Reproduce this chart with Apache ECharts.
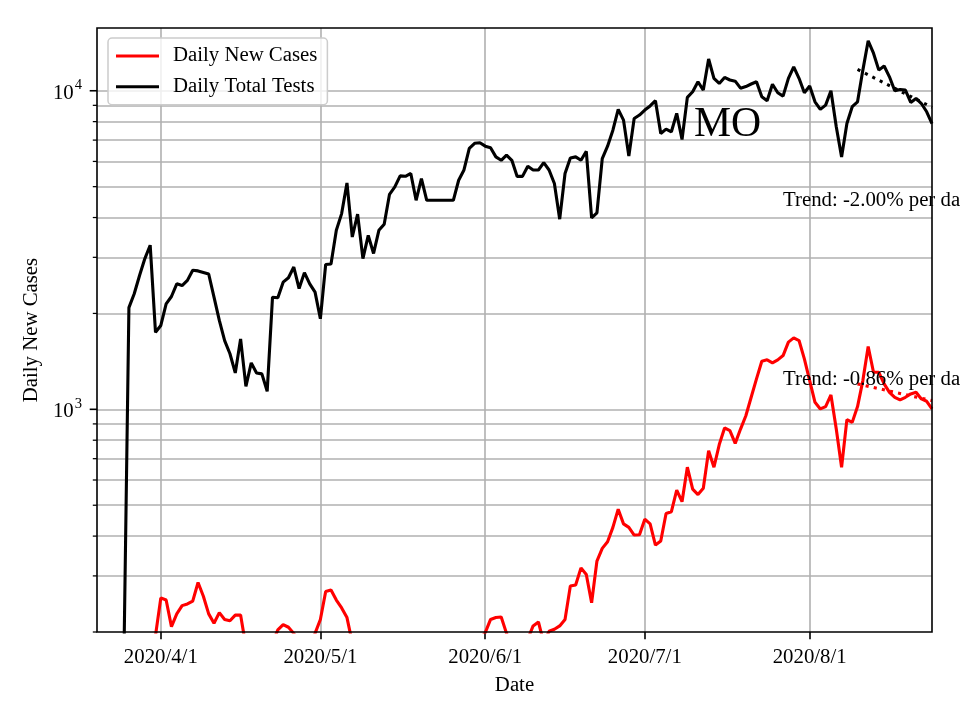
<!DOCTYPE html>
<html>
<head>
<meta charset="utf-8">
<script src="https://cdn.jsdelivr.net/npm/echarts@6/dist/echarts.min.js"></script>
<style>
html,body{margin:0;padding:0;background:#fff;}
#chart{width:960px;height:720px;}
</style>
</head>
<body>
<div id="chart"></div>
<script>
// ---- data ----
const startDate = Date.UTC(2020, 2, 20);
const endDate = Date.UTC(2020, 7, 24);
const dates = [];
for (let t = startDate; t <= endDate; t += 86400000) {
  const dt = new Date(t);
  dates.push(dt.getUTCFullYear() + '/' + (dt.getUTCMonth() + 1) + '/' + dt.getUTCDate());
}
const xTickLabels = ['2020/4/1', '2020/5/1', '2020/6/1', '2020/7/1', '2020/8/1'];

const dailyTotalTests = [null,null,null,null,null,140,
2085,2306,2630,2973,3275,1745,1833,2143,2260,2477,
2447,2540,2731,2720,2690,2660,2250,1901,1643,1494,
1301,1664,1181,1399,1301,1292,1139,2249,2240,2507,
2588,2797,2393,2686,2477,2333,1924,2850,2860,3647,
4115,5136,3475,4100,2973,3516,3085,3647,3810,4731,
4990,5404,5390,5500,4530,5300,4530,4530,4530,4530,
4530,4530,5237,5640,6595,6840,6870,6700,6620,6200,
6050,6280,6050,5385,5385,5795,5640,5640,5945,5640,
5115,3953,5500,6155,6200,6050,6455,3990,4135,6125,
6700,7520,8740,8085,6235,8185,8390,8700,8960,9310,
7340,7580,7435,8495,7030,9535,9930,10670,10050,12580,
10940,10540,11010,10810,10720,10190,10310,10500,10670,9575,
9310,10480,9860,9620,10940,11890,10940,9860,10350,9230,
8740,9015,10000,7710,6200,7890,8910,9230,11610,14350,
13120,11610,11960,11060,10000,10090,10050,9190,9460,9120,
8590,7890];

const dailyNewCases = [null,null,null,null,null,80,90,100,110,130,
120,195,256,252,208,228,242,245,250,286,
259,228,213,230,219,217,226,226,180,170,
165,175,180,185,203,211,207,198,185,175,
180,198,219,268,271,252,238,222,185,170,
175,160,165,180,170,160,150,165,175,170,
160,150,155,165,170,175,180,170,160,165,
175,185,190,199,219,222,223,198,180,185,
190,190,209,215,185,201,204,209,219,279,
281,318,303,247,334,366,384,426,486,437,
426,403,404,452,437,375,386,471,477,558,
513,658,562,540,565,741,658,775,874,857,
782,867,955,1091,1246,1416,1430,1400,1430,1475,
1625,1676,1644,1440,1231,1052,1003,1020,1110,867,
658,928,910,1020,1231,1575,1307,1307,1202,1131,
1091,1070,1091,1118,1131,1078,1060,1003];

const trendDates = ['2020/8/10', '2020/8/24'];
const trendTests = [11670, 8870];
const trendCases = [1202, 1065];

const yMajorTicks = [1000, 10000];
const yMinorTicks = [200,300,400,500,600,700,800,900,2000,3000,4000,5000,6000,7000,8000,9000];
const yTickLabels = {1000: '3', 10000: '4'};

// ---- chart ----
const FONT = '"Liberation Serif", "DejaVu Serif", serif';
const FS = 20.8;
const GRID = {left: 97, top: 28, right: 28, bottom: 88};
const chart = echarts.init(document.getElementById('chart'), null, {renderer: 'canvas'});
const isMonthStart = (i, v) => xTickLabels.indexOf(v) >= 0;

const option = {
  animation: false,
  backgroundColor: '#fff',
  textStyle: {fontFamily: FONT},
  grid: {left: GRID.left, top: GRID.top, right: GRID.right, bottom: GRID.bottom, containLabel: false},
  legend: {
    z: 100, zlevel: 0,
    data: [{name: 'Daily New Cases', icon: 'rect'}, {name: 'Daily Total Tests', icon: 'rect'}],
    orient: 'vertical',
    left: 108, top: 38,
    itemWidth: 43, itemHeight: 3.1, itemGap: 8.7,
    padding: [7, 10, 7, 8],
    backgroundColor: 'rgba(255,255,255,0.8)',
    borderColor: '#cccccc', borderWidth: 1.5, borderRadius: 4,
    textStyle: {fontFamily: FONT, fontSize: FS, color: '#000', lineHeight: 22, padding: [0, 0, 0, 9]}
  },
  xAxis: {
    type: 'category',
    data: dates,
    boundaryGap: false,
    name: 'Date',
    nameLocation: 'middle',
    nameGap: 43,
    nameTextStyle: {fontFamily: FONT, fontSize: FS, color: '#000'},
    axisLine: {show: false},
    axisTick: {show: true, interval: isMonthStart, length: 7.3, lineStyle: {color: '#000', width: 1.6}},
    axisLabel: {interval: isMonthStart, margin: 15, fontFamily: FONT, fontSize: FS, color: '#000'},
    splitLine: {show: true, interval: isMonthStart, lineStyle: {color: '#b0b0b0', width: 1.6}}
  },
  yAxis: {
    type: 'log',
    logBase: 10,
    min: 200,
    max: 15740,
    name: 'Daily New Cases',
    nameLocation: 'middle',
    nameRotate: 90,
    nameGap: 52,
    nameTextStyle: {fontFamily: FONT, fontSize: FS, color: '#000'},
    axisLine: {show: false},
    axisTick: {show: false},
    splitLine: {show: false},
    axisLabel: {
      showMinLabel: false, showMaxLabel: false,
      margin: 15,
      formatter: function (v) {
        const e = Math.round(Math.log10(v));
        if (Math.abs(Math.log10(v) - e) < 0.01 && yTickLabels[Math.pow(10, e)]) {
          return '{a|10}{s|' + yTickLabels[Math.pow(10, e)] + '}';
        }
        return '';
      },
      rich: {
        a: {fontFamily: FONT, fontSize: FS, color: '#000', lineHeight: 30, verticalAlign: 'bottom', padding: [0,0,2,0]},
        s: {fontFamily: FONT, fontSize: 14.6, color: '#000', lineHeight: 30, verticalAlign: 'top', padding: [2,0,0,1]}
      }
    }
  },
  series: [
    {
      name: 'gridlines', type: 'line', data: [], z: 1, silent: true,
      markLine: {
        silent: true, symbol: ['none', 'none'], animation: false, z: 1,
        label: {show: false},
        lineStyle: {color: '#b0b0b0', width: 1.6, type: 'solid'},
        data: yMajorTicks.concat(yMinorTicks.filter(v => v > 200)).map(v => ({yAxis: v}))
      }
    },
    {
      name: 'Daily New Cases', type: 'line', data: dailyNewCases, showSymbol: false, symbol: 'none',
      connectNulls: false, clip: true, z: 3,
      lineStyle: {color: '#ff0000', width: 3.1}, itemStyle: {color: '#ff0000'}
    },
    {
      name: 'Daily Total Tests', type: 'line', data: dailyTotalTests, showSymbol: false, symbol: 'none',
      connectNulls: false, clip: true, z: 3,
      lineStyle: {color: '#000000', width: 3.1}, itemStyle: {color: '#000000'}
    },
    {
      name: 'Trend Cases', type: 'line', data: trendDates.map((d, i) => [d, trendCases[i]]), symbol: 'none',
      z: 4, clip: true,
      lineStyle: {color: '#ff0000', width: 3.1, type: [3.1, 5.2], cap: 'butt'}
    },
    {
      name: 'Trend Tests', type: 'line', data: trendDates.map((d, i) => [d, trendTests[i]]), symbol: 'none',
      z: 4, clip: true,
      lineStyle: {color: '#000000', width: 3.1, type: [3.1, 5.2], cap: 'butt'}
    }
  ]
};
chart.setOption(option);

// ticks and frame drawn with axis coordinates from the library's scale
const gfx = [];
const x0 = GRID.left;
yMajorTicks.forEach(v => {
  const y = chart.convertToPixel({yAxisIndex: 0}, v);
  gfx.push({type: 'line', z: 50, shape: {x1: x0 - 7.3, y1: y, x2: x0, y2: y}, style: {stroke: '#000', lineWidth: 1.6}});
});
yMinorTicks.forEach(v => {
  const y = chart.convertToPixel({yAxisIndex: 0}, v);
  gfx.push({type: 'line', z: 50, shape: {x1: x0 - 4.2, y1: y, x2: x0, y2: y}, style: {stroke: '#000', lineWidth: 1.25}});
});
gfx.push({type: 'rect', z: 60, silent: true,
  shape: {x: GRID.left, y: GRID.top, width: 960 - GRID.left - GRID.right, height: 720 - GRID.top - GRID.bottom},
  style: {fill: null, stroke: '#000', lineWidth: 1.6}});
gfx.push({type: 'text', z: 70, left: 694, top: 104,
  style: {text: 'MO', font: '41.7px ' + FONT, fill: '#000'}});
gfx.push({type: 'text', z: 70, left: 783, top: 190,
  style: {text: 'Trend: -2.00% per day', font: FS + 'px ' + FONT, fill: '#000'}});
gfx.push({type: 'text', z: 70, left: 783, top: 369,
  style: {text: 'Trend: -0.86% per day', font: FS + 'px ' + FONT, fill: '#000'}});
chart.setOption({graphic: gfx});
</script>
</body>
</html>
